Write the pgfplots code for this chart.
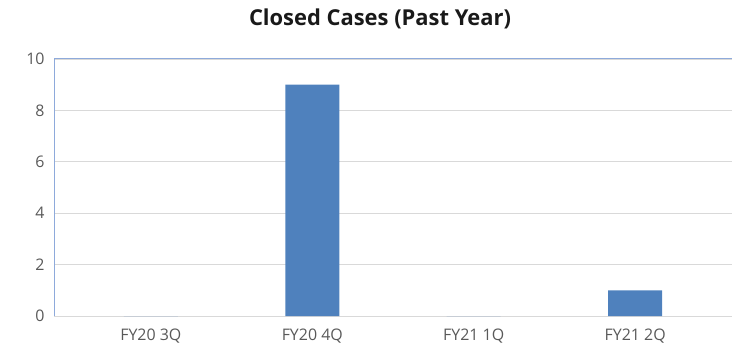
\documentclass[border=0pt]{standalone}
\usepackage{pgfplots}
\pgfplotsset{compat=1.18}
\usepackage{fontspec}
\setmainfont{Open Sans}
\definecolor{barblue}{HTML}{4F81BD}
\definecolor{frameblue}{HTML}{8EAADB}
\definecolor{gridgray}{HTML}{D9D9D9}
\definecolor{ticktext}{HTML}{595959}
\begin{document}
\begin{tikzpicture}
\useasboundingbox (0,0) rectangle (732bp,355bp);
\begin{axis}[
  at={(54bp,39bp)}, anchor=south west,
  scale only axis,
  width=678bp, height=257bp,
  xmin=-0.6, xmax=3.6,
  ymin=0, ymax=10,
  ytick={0,2,...,10},
  xtick={0,1,2,3},
  xticklabels={FY20 3Q, FY20 4Q, FY21 1Q, FY21 2Q},
  axis x line*=bottom,
  axis y line*=left,
  x axis line style={gridgray, line width=1pt, -},
  y axis line style={frameblue, line width=1pt, -},
  major tick length=0pt,
  ymajorgrids,
  grid style={gridgray, line width=0.8pt},
  tick label style={font=\fontsize{16}{18}\selectfont, text=ticktext},
  yticklabel style={xshift=-6bp},
  xticklabel style={yshift=-9bp},
  /pgf/number format/assume math mode=true,
  ybar, bar width=54bp,
  axis on top=false,
  clip=false,
]
\addplot[fill=barblue, draw=none] coordinates {(0,0) (1,9) (2,0) (3,1)};
\draw[frameblue, line width=1pt] (axis cs:-0.6,10) -- (axis cs:3.6,10);
\end{axis}
\node[font=\bfseries\fontsize{22}{26}\selectfont, text=black!90] at (380bp,336bp) {Closed Cases (Past Year)};
\end{tikzpicture}
\end{document}
